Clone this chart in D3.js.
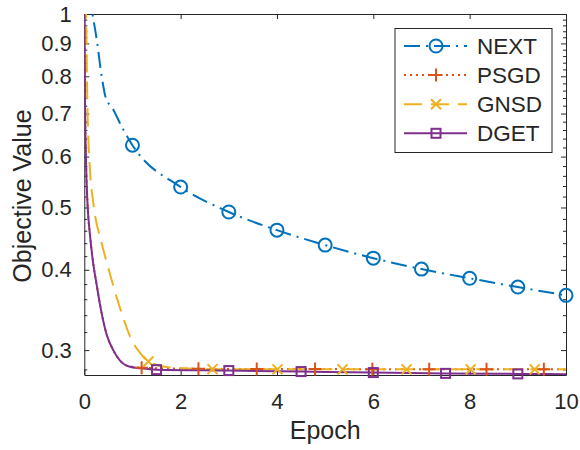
<!DOCTYPE html>
<html>
<head>
<meta charset="utf-8">
<script src="https://cdn.jsdelivr.net/npm/d3@7"></script>
<style>
  body { margin: 0; background: #fff; }
  #chart text { font-family: "Liberation Sans", Arial, Helvetica, sans-serif; fill: #262626; }
</style>
</head>
<body>
<div id="chart"></div>
<script>
// Series (epoch, objective value)
const nextEpoch = [0, 0.17, 0.26, 0.36, 0.46, 0.57, 0.78, 1, 2, 3, 4, 5, 6, 7, 8, 9, 10];
const nextValue = [1.2, 1.0, 0.91, 0.80, 0.735, 0.717, 0.667, 0.625, 0.538, 0.492, 0.461, 0.437, 0.417, 0.401, 0.388, 0.376, 0.365];
const nextMarkers = [1, 2, 3, 4, 5, 6, 7, 8, 9, 10];

const psgdEpoch = [0, 0.002, 0.0145, 0.035, 0.066, 0.118, 0.18, 0.257, 0.326, 0.465, 0.6, 0.741, 0.948, 1.19, 2.37, 3.58, 4.79, 5.98, 7.16, 8.35, 9.54, 10];
const psgdValue = [1.05, 1.0, 0.735, 0.593, 0.508, 0.453, 0.412, 0.379, 0.353, 0.317, 0.300, 0.289, 0.2830, 0.2817, 0.2805, 0.2803, 0.2803, 0.2802, 0.2802, 0.2802, 0.2802, 0.2802];
const psgdMarkers = [1.19, 2.37, 3.58, 4.79, 5.98, 7.16, 8.35, 9.54];

const gnsdEpoch = [0, 0.035, 0.062, 0.118, 0.187, 0.361, 0.465, 0.741, 0.983, 1.156, 1.33, 1.74, 2.66, 4.01, 5.36, 6.69, 8.02, 9.35, 10];
const gnsdValue = [1.05, 1.0, 0.735, 0.572, 0.508, 0.44, 0.411, 0.349, 0.311, 0.297, 0.288, 0.2822, 0.2802, 0.2800, 0.2800, 0.2800, 0.2800, 0.2800, 0.2800];
const gnsdMarkers = [1.33, 2.66, 4.01, 5.36, 6.69, 8.02, 9.35];

const dgetEpoch = [0, 0.002, 0.0145, 0.035, 0.066, 0.118, 0.18, 0.257, 0.326, 0.465, 0.6, 0.741, 0.948, 1.156, 1.5, 3, 4.5, 6, 7.5, 9, 10];
const dgetValue = [1.05, 1.0, 0.735, 0.593, 0.508, 0.453, 0.412, 0.379, 0.353, 0.317, 0.300, 0.289, 0.2826, 0.2812, 0.2797, 0.2788, 0.2778, 0.2768, 0.2760, 0.2755, 0.2752];
const dgetMarkers = [1.5, 3, 4.5, 6, 7.5, 9];

const seriesNames = ['NEXT', 'PSGD', 'GNSD', 'DGET'];
const xTicks = [0, 2, 4, 6, 8, 10];
const yTicks = [0.3, 0.4, 0.5, 0.6, 0.7, 0.8, 0.9, 1];
const yTickLabels = ['0.3', '0.4', '0.5', '0.6', '0.7', '0.8', '0.9', '1'];
const yMinorTicks = d3.range(14, 50).map(i => i * 0.02).filter(v => !yTicks.some(t => Math.abs(t - v) < 1e-9));

const width = 580, height = 450;
const plotLeft = 84.3, plotRight = 566, plotTop = 14, plotBottom = 375;

const svg = d3.select('#chart')
  .append('svg')
  .attr('width', width)
  .attr('height', height);

const x = d3.scaleLinear().domain([0, 10]).range([plotLeft, plotRight]);
const y = d3.scaleLog().domain([0.2744, 1]).range([plotBottom, plotTop]);

svg.append('defs').append('clipPath')
  .attr('id', 'plot-clip')
  .append('rect')
  .attr('x', plotLeft).attr('y', plotTop)
  .attr('width', plotRight - plotLeft).attr('height', plotBottom - plotTop);

// Axes with inward ticks (box on)
const axisColor = '#262626';
function styleAxis(g) {
  g.selectAll('path.domain').attr('stroke', axisColor).attr('stroke-width', 1);
  g.selectAll('.tick line').attr('stroke', axisColor).attr('stroke-width', 1);
  g.selectAll('.tick text').attr('font-size', 22).attr('fill', axisColor);
}

svg.append('g')
  .attr('transform', `translate(0,${plotBottom})`)
  .call(d3.axisBottom(x).tickValues(xTicks).tickFormat(d3.format('d'))
    .tickSizeInner(-5).tickSizeOuter(0).tickPadding(18))
  .call(styleAxis);

svg.append('g')
  .attr('transform', `translate(0,${plotTop})`)
  .call(d3.axisTop(x).tickValues(xTicks).tickFormat('')
    .tickSizeInner(-5).tickSizeOuter(0))
  .call(styleAxis);

svg.append('g')
  .attr('transform', `translate(${plotLeft},0)`)
  .call(d3.axisLeft(y).tickValues(yTicks).tickFormat((d, i) => yTickLabels[i])
    .tickSizeInner(-5).tickSizeOuter(0).tickPadding(12.5))
  .call(styleAxis);

svg.append('g')
  .attr('transform', `translate(${plotLeft},0)`)
  .call(d3.axisLeft(y).tickValues(yMinorTicks).tickFormat('')
    .tickSizeInner(-3).tickSizeOuter(0))
  .call(styleAxis)
  .select('path.domain').remove();

svg.append('g')
  .attr('transform', `translate(${plotRight},0)`)
  .call(d3.axisRight(y).tickValues(yTicks).tickFormat('')
    .tickSizeInner(-5).tickSizeOuter(0))
  .call(styleAxis);

svg.append('g')
  .attr('transform', `translate(${plotRight},0)`)
  .call(d3.axisRight(y).tickValues(yMinorTicks).tickFormat('')
    .tickSizeInner(-3).tickSizeOuter(0))
  .call(styleAxis)
  .select('path.domain').remove();

// Axis labels
svg.append('text')
  .attr('x', (plotLeft + plotRight) / 2)
  .attr('y', 438.5)
  .attr('text-anchor', 'middle')
  .attr('font-size', 25)
  .text('Epoch');

svg.append('text')
  .attr('transform', `translate(31,196) rotate(-90)`)
  .attr('text-anchor', 'middle')
  .attr('font-size', 25)
  .text('Objective Value');

// Series
const series = [
  { name: 'NEXT', epoch: nextEpoch, value: nextValue, marks: nextMarkers, color: '#0072BD', dash: '16,6,2,6', marker: 'circle' },
  { name: 'PSGD', epoch: psgdEpoch, value: psgdValue, marks: psgdMarkers, color: '#D95319', dash: '2,4', marker: 'plus' },
  { name: 'GNSD', epoch: gnsdEpoch, value: gnsdValue, marks: gnsdMarkers, color: '#EDB120', dash: '18,9', marker: 'cross' },
  { name: 'DGET', epoch: dgetEpoch, value: dgetValue, marks: dgetMarkers, color: '#7E2F8E', dash: null, marker: 'square' }
];

const line = d3.line()
  .x(d => x(d[0]))
  .y(d => y(d[1]))
  .curve(d3.curveMonotoneX);

function drawMarker(g, type, cx, cy, color) {
  if (type === 'circle') {
    g.append('circle').attr('cx', cx).attr('cy', cy).attr('r', 6.5)
      .attr('fill', 'none').attr('stroke', color).attr('stroke-width', 2);
  } else if (type === 'plus') {
    g.append('path').attr('d', `M${cx - 6.5},${cy}H${cx + 6.5}M${cx},${cy - 6.5}V${cy + 6.5}`)
      .attr('stroke', color).attr('stroke-width', 2);
  } else if (type === 'cross') {
    const s = 5;
    g.append('path').attr('d', `M${cx - s},${cy - s}L${cx + s},${cy + s}M${cx - s},${cy + s}L${cx + s},${cy - s}`)
      .attr('stroke', color).attr('stroke-width', 2);
  } else if (type === 'square') {
    g.append('rect').attr('x', cx - 4.5).attr('y', cy - 4.5).attr('width', 9).attr('height', 9)
      .attr('fill', 'none').attr('stroke', color).attr('stroke-width', 2);
  }
}

const plot = svg.append('g').attr('clip-path', 'url(#plot-clip)');

series.forEach(s => {
  const pts = s.epoch.map((e, i) => [e, s.value[i]]);
  plot.append('path')
    .datum(pts)
    .attr('d', line)
    .attr('fill', 'none')
    .attr('stroke', s.color)
    .attr('stroke-width', 2)
    .attr('stroke-dasharray', s.dash);
});

const markerLayer = svg.append('g');
series.forEach(s => {
  s.marks.forEach(m => {
    const i = s.epoch.indexOf(m);
    drawMarker(markerLayer, s.marker, x(m), y(s.value[i]), s.color);
  });
});

// Legend
const legend = svg.append('g');
legend.append('rect')
  .attr('x', 395).attr('y', 28.5)
  .attr('width', 157).attr('height', 124)
  .attr('fill', '#fff').attr('stroke', axisColor).attr('stroke-width', 1);

series.forEach((s, i) => {
  const ly = 46 + i * 29.1;
  legend.append('line')
    .attr('x1', 404).attr('x2', 467)
    .attr('y1', ly).attr('y2', ly)
    .attr('stroke', s.color).attr('stroke-width', 2)
    .attr('stroke-dasharray', s.dash);
  drawMarker(legend, s.marker, 436, ly, s.color);
  legend.append('text')
    .attr('x', 477).attr('y', ly)
    .attr('dy', '0.36em')
    .attr('font-size', 22.5)
    .text(seriesNames[i]);
});
</script>
</body>
</html>
